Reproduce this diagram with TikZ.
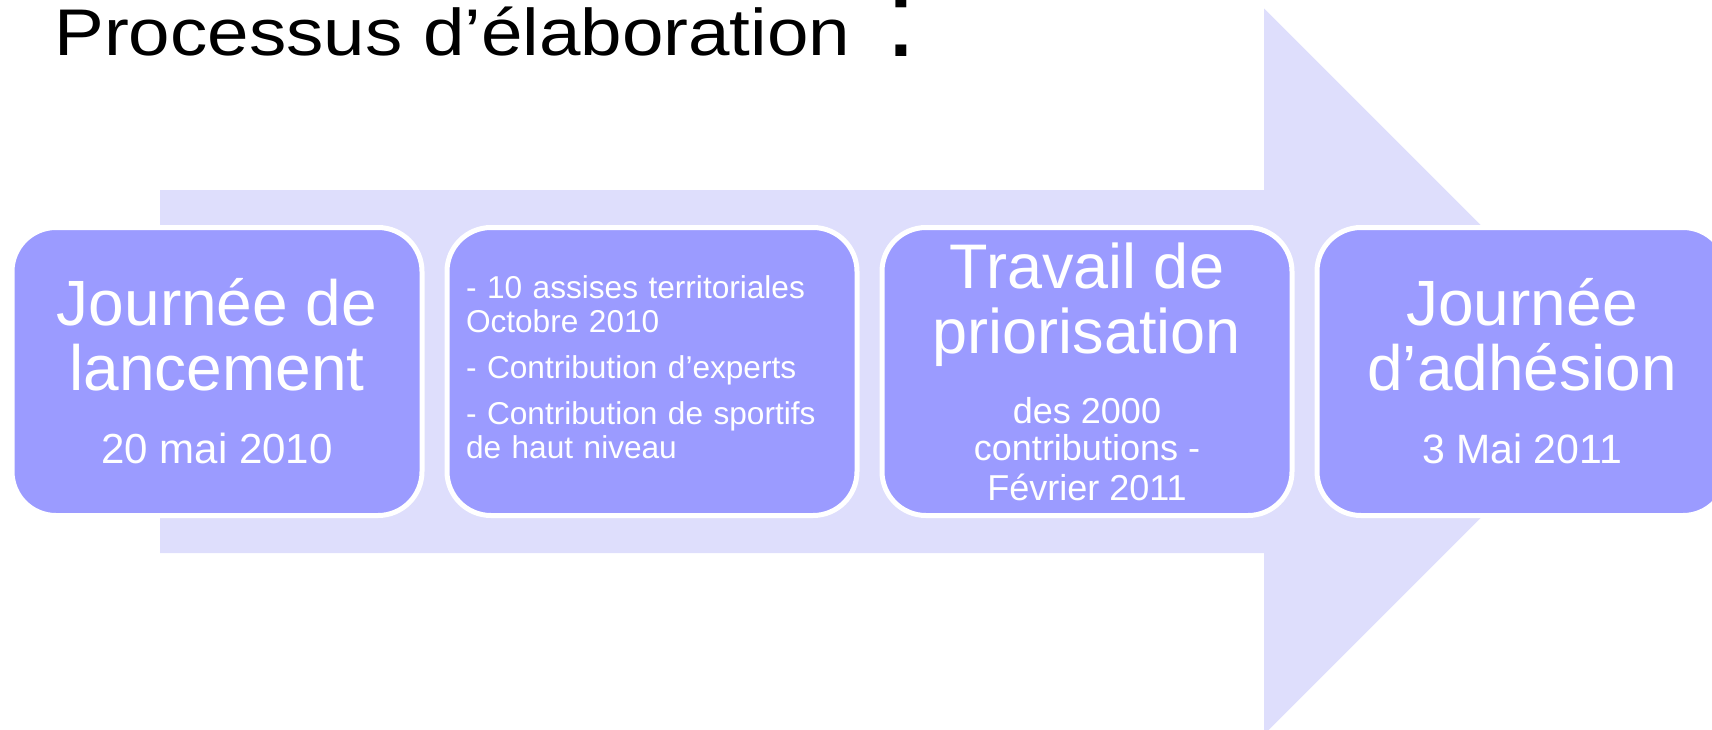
\documentclass[tikz,border=0pt]{standalone}
\usepackage{fontspec}
\setmainfont{Liberation Sans}
\usepackage{graphicx}
\usetikzlibrary{positioning, calc}

\definecolor{phasefill}{RGB}{155,155,255}
\definecolor{shaftfill}{RGB}{222,222,252}

\begin{document}
\begin{tikzpicture}[
    x=0.5pt, y=-0.5pt,
    phase/.style={
        draw=white,
        fill=phasefill,
        line width=2.5pt,
        rounded corners=22pt,
        minimum width=205pt,
        minimum height=144pt,
        outer sep=0pt,
        inner sep=0pt,
        text=white,
        align=center
    },
    bigarrow/.style={
        fill=shaftfill
    },
    headline/.style={
        font=\fontsize{32}{32.5}\selectfont
    }
]

% parameters
\def\gap{12.5pt}
\def\tip{1627}

\useasboundingbox (0,0) rectangle (1712,729);
\clip (0,0) rectangle (1712,729);

% background arrow
\fill[bigarrow] (160,190) -- (1264,190) -- (1264,8.5) -- (\tip,371.5)
  -- (1264,734.5) -- (1264,553) -- (160,553) -- cycle;

% title
\node[anchor=base west, inner sep=0pt, font=\fontsize{33}{33}\selectfont] (title) at (54,55)
  {\scalebox{1.13}[1]{Processus d’élaboration}};
\node[anchor=base west, inner sep=0pt, font=\fontsize{57}{57}\selectfont] (colon) at (885,56) {:};

% the four phases
\node[phase, headline] (launch) at (217,371.5)
  {Journée de\\lancement\\[4pt]{\fontsize{21}{21}\selectfont 20 mai 2010}};

\node[phase, align=left, text width=186pt, inner xsep=9.5pt,
      font=\fontsize{15.8}{17}\selectfont, right=\gap of launch] (assises)
  {- 10 assises territoriales\\Octobre 2010\\[6pt]
   - Contribution d’experts\\[6pt]
   - Contribution de sportifs\\de haut niveau\rule[-4pt]{0pt}{0pt}};

\node[phase, font=\fontsize{31.5}{32.5}\selectfont, right=\gap of assises] (priority)
  {Travail de\\priorisation\\[2.5pt]{\fontsize{18}{18}\selectfont des 2000}\\[-14pt]
   {\fontsize{18}{18}\selectfont contributions -}\\[-12.5pt]
   {\fontsize{18}{18}\selectfont Février 2011}};

\node[phase, headline, right=\gap of priority] (adhesion)
  {Journée\\d’adhésion\\[4pt]{\fontsize{20.5}{20.5}\selectfont 3 Mai 2011}};

\end{tikzpicture}
\end{document}
